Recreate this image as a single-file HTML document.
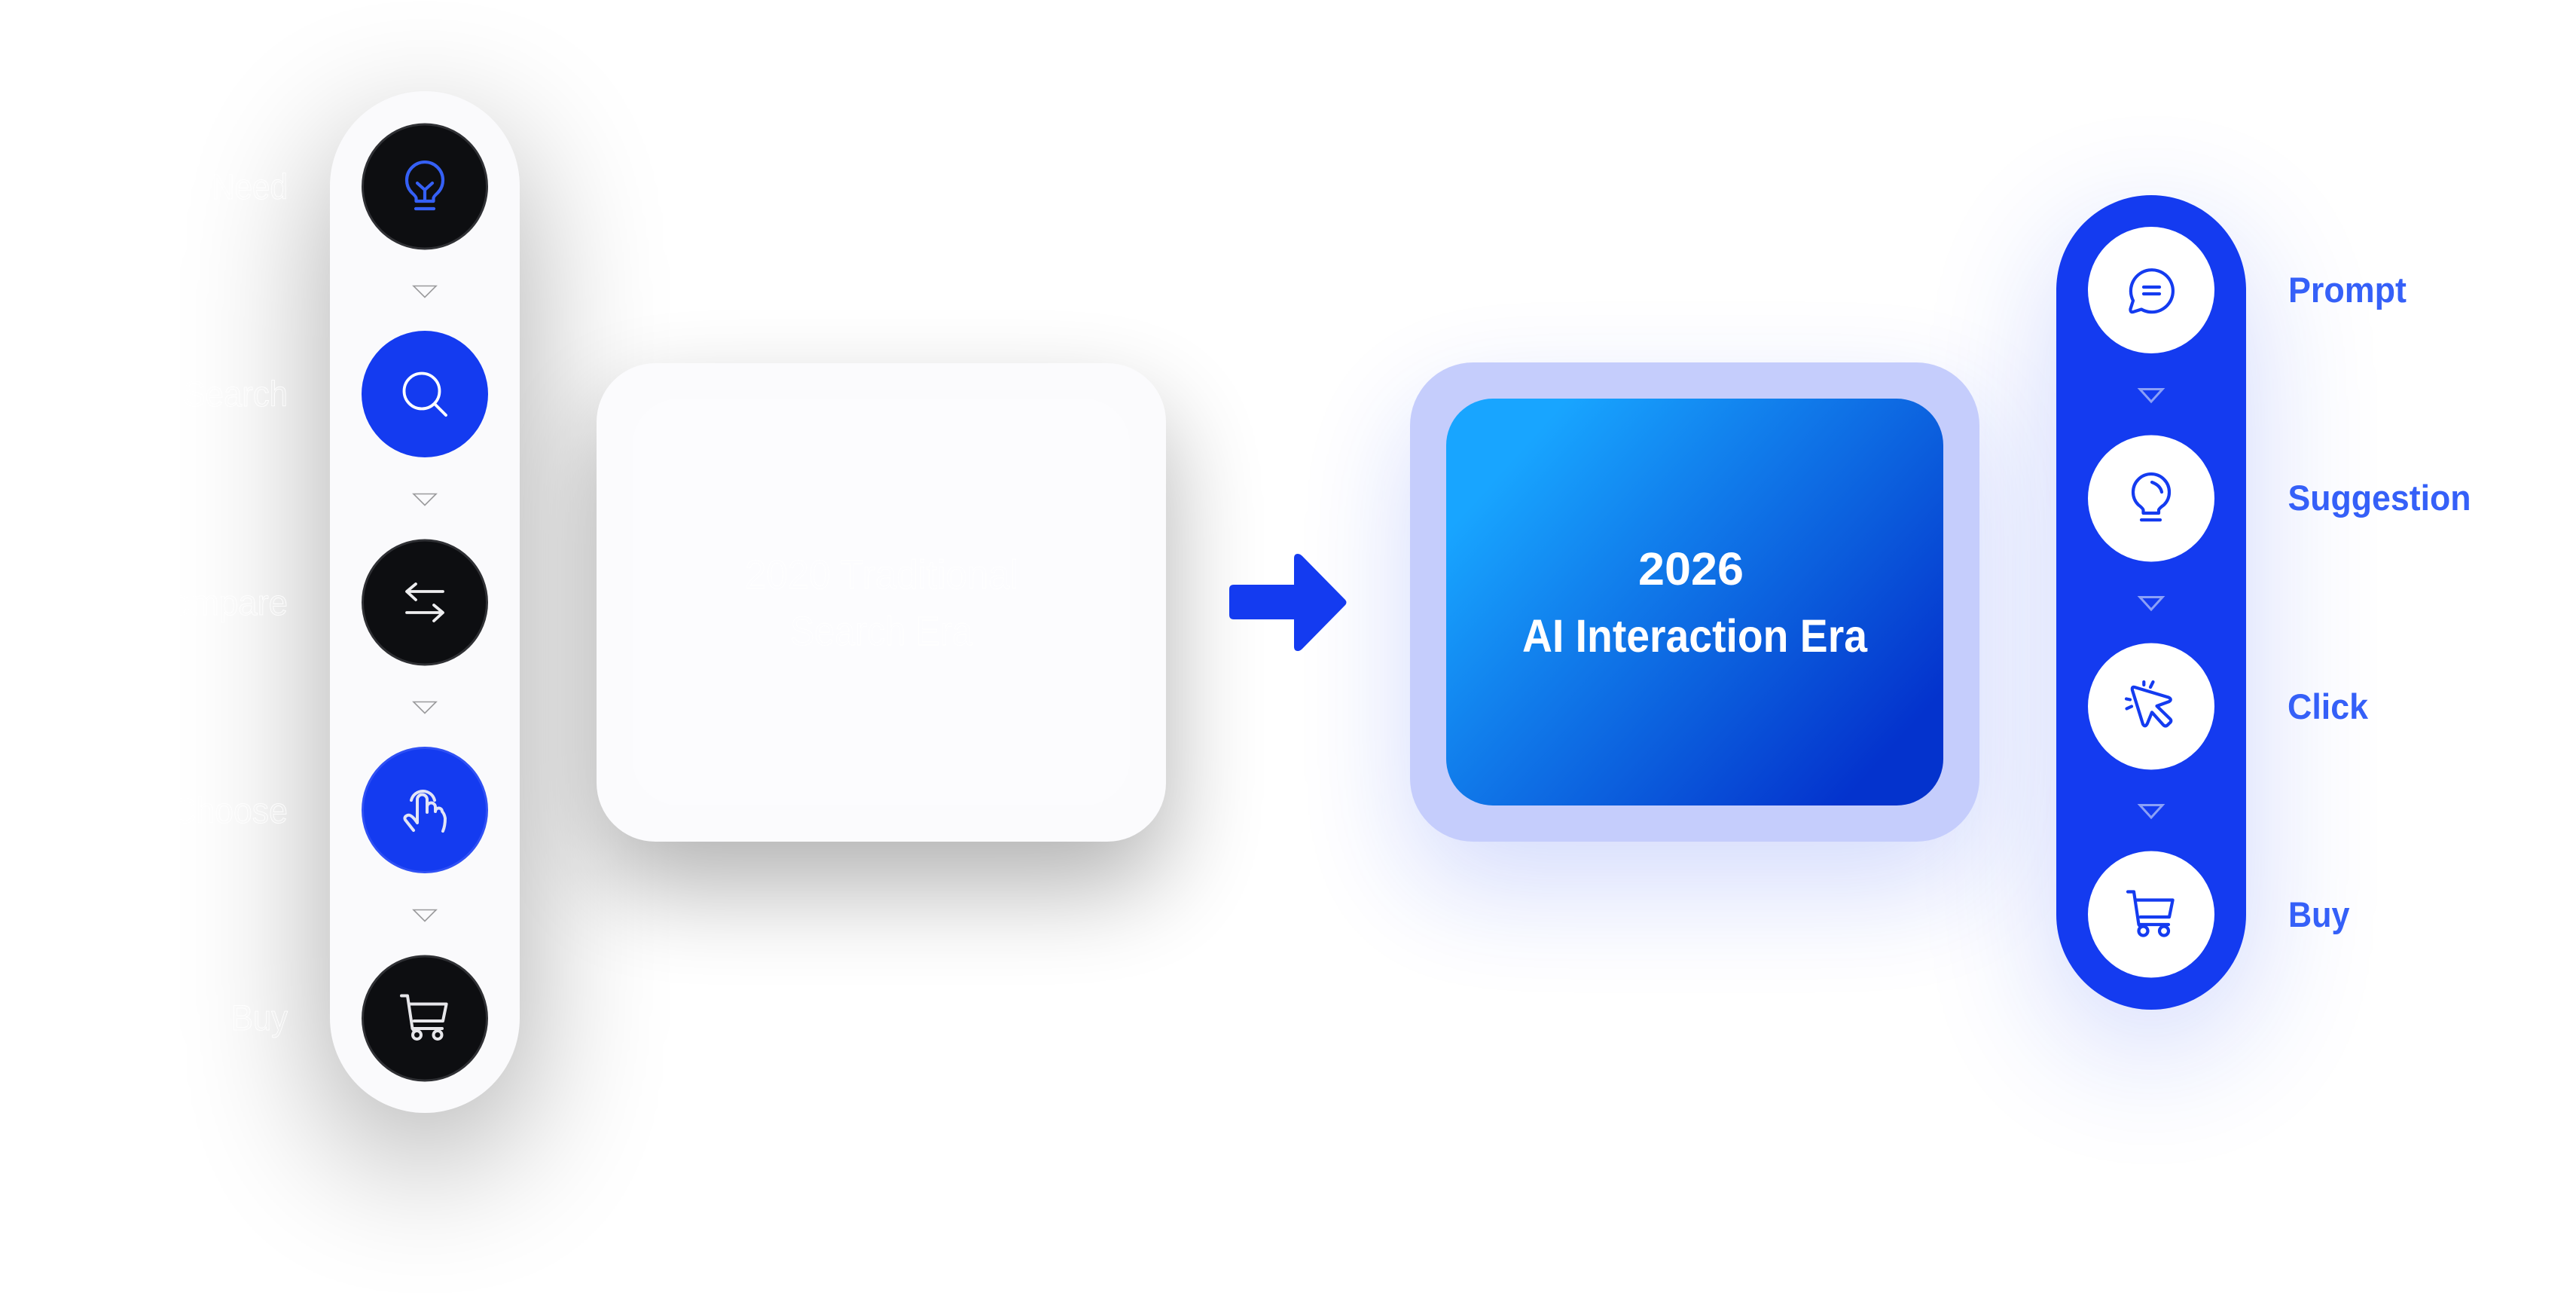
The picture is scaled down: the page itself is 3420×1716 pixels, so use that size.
<!DOCTYPE html>
<html><head><meta charset="utf-8"><style>
html,body{margin:0;padding:0;background:#fff;width:3420px;height:1716px;overflow:hidden}
.b{position:absolute;box-sizing:border-box}
svg{position:absolute;left:0;top:0}
text{font-family:"Liberation Sans",sans-serif}
</style></head><body>
<div class="b" style="left:438px;top:181px;width:252px;height:1356px;border-radius:126px;background:#000;opacity:.33;filter:blur(95px)"></div>
<div class="b" style="left:792px;top:542px;width:756px;height:635px;border-radius:78px;background:#000;opacity:.3;filter:blur(65px)"></div>
<div class="b" style="left:1872px;top:541px;width:756px;height:636px;border-radius:84px;background:#143bf0;opacity:.18;filter:blur(75px)"></div>
<div class="b" style="left:2730px;top:309px;width:252px;height:1081px;border-radius:126px;background:#143bf0;opacity:.2;filter:blur(90px)"></div>
<div class="b" style="left:438px;top:121px;width:252px;height:1356px;border-radius:126px;background:#fafafc"></div>
<div class="b" style="left:792px;top:482px;width:756px;height:635px;border-radius:78px;background:#fbfbfd"></div>
<div class="b" style="left:840px;top:529px;width:660px;height:540px;border-radius:62px;background:#fcfcfe"></div>
<div class="b" style="left:1872px;top:481px;width:756px;height:636px;border-radius:84px;background:#c5cdfc"></div>
<div class="b" style="left:1920px;top:529px;width:660px;height:540px;border-radius:62px;background:linear-gradient(132deg,#18a5ff 14%,#1283ee 36%,#0b5cdc 62%,#0433cd 88%)"></div>
<div class="b" style="left:2730px;top:259px;width:252px;height:1081px;border-radius:126px;background:#143bf0"></div>
<svg width="3420" height="1716" viewBox="0 0 3420 1716" fill="none" stroke-linecap="round" stroke-linejoin="round">
<!-- left circles -->
<circle cx="564" cy="247.5" r="82.5" fill="#0d0e11" stroke="#2f3034" stroke-width="3"/>
<circle cx="564" cy="523" r="84" fill="#143bf0"/>
<circle cx="564" cy="799.5" r="82.5" fill="#0d0e11" stroke="#2f3034" stroke-width="3"/>
<circle cx="564" cy="1075" r="82.5" fill="#143bf0" stroke="#2f50f4" stroke-width="3"/>
<circle cx="564" cy="1351.5" r="82.5" fill="#0d0e11" stroke="#2f3034" stroke-width="3"/>
<!-- left triangles -->
<g stroke="#9a9a9c" stroke-width="1.6" stroke-linejoin="miter">
<path d="M549 379.5H579L564 394.5Z"/><path d="M549 655.5H579L564 670.5Z"/><path d="M549 931.5H579L564 946.5Z"/><path d="M549 1207.5H579L564 1222.5Z"/>
</g>
<!-- left icons -->
<g stroke="#3560f5" stroke-width="4.2">
<path d="M552.5 267V263Q552.5 261 547 256A24 24 0 1 1 581 256Q575.5 261 575.5 263V267Z"/>
<path d="M554 243L564 252L574 243M564 252V266M552 277H576"/>
</g>
<g stroke="#fff" stroke-width="3.8"><circle cx="560" cy="519" r="23.5"/><path d="M577 536L592 551"/></g>
<g stroke="#eeeef0" stroke-width="3.8"><path d="M588 785H540L552 775M540 785L552 796M540 813H588L576 803M588 813L576 824"/></g>
<g stroke="#e2e5f6" stroke-width="4">
<path d="M546 1062A16 16 0 0 1 577 1062"/>
<path d="M549 1102L538 1088Q536 1084 541 1082Q546 1080 554 1092V1061A6.5 6.5 0 0 1 567 1061V1078V1071A5.5 5.5 0 0 1 578 1071V1077A4.5 4.5 0 0 1 587 1077Q590 1080 591 1086Q591 1096 588 1103"/>
</g>
<g stroke="#e6e6ea" stroke-width="4" transform="translate(564 1351.5)">
<path d="M-31-30H-23L-16.5 13.5H23M-19.3-19H28.6L24 3.5H-14.3M-16.5 13.5L-14 17"/>
<circle cx="-10.5" cy="22" r="5.5"/><circle cx="17" cy="22" r="5.5"/>
</g>
<!-- left labels -->
<g fill="rgba(255,255,255,.12)" stroke="#fff" stroke-width=".8" font-size="47">
<text x="281" y="264" textLength="101" lengthAdjust="spacingAndGlyphs">Need</text>
<text x="243.5" y="539" textLength="138.5" lengthAdjust="spacingAndGlyphs">Search</text>
<text x="195" y="816" textLength="187" lengthAdjust="spacingAndGlyphs">Compare</text>
<text x="228" y="1092" textLength="154" lengthAdjust="spacingAndGlyphs">Choose</text>
<text x="307" y="1367" textLength="75" lengthAdjust="spacingAndGlyphs">Buy</text>
</g>
<!-- centre labels -->
<g fill="rgba(255,255,255,.12)" stroke="#fff" stroke-width=".8" font-size="54">
<text x="989" y="781" textLength="363" lengthAdjust="spacingAndGlyphs">2020 Traditional</text>
<text x="1049" y="856" textLength="242" lengthAdjust="spacingAndGlyphs">Search Era</text>
</g>
<!-- arrow -->
<path d="M1638 776H1718V741Q1718 735 1723 735Q1726 735 1729 738L1786 796Q1789 799.5 1786 803L1729 861Q1726 864 1723 864Q1718 864 1718 858V822H1638Q1632 822 1632 816V782Q1632 776 1638 776Z" fill="#143bf0"/>
<!-- right card text -->
<g fill="#fff" font-size="61" font-weight="700">
<text x="2175" y="776" textLength="140" lengthAdjust="spacingAndGlyphs">2026</text>
<text x="2021" y="865" textLength="458" lengthAdjust="spacingAndGlyphs">AI Interaction Era</text>
</g>
<!-- right circles -->
<g fill="#fff"><circle cx="2856" cy="385" r="84"/><circle cx="2856" cy="661.5" r="84"/><circle cx="2856" cy="937.5" r="84"/><circle cx="2856" cy="1213.5" r="84"/></g>
<g stroke="#8ba0f7" stroke-width="3" stroke-linejoin="miter">
<path d="M2841 516.5H2871L2856 533Z"/><path d="M2841 792.5H2871L2856 809Z"/><path d="M2841 1068.5H2871L2856 1085Z"/>
</g>
<!-- right icons -->
<g stroke="#143bf0" stroke-width="4.2">
<path d="M2832 399A28 28 0 1 1 2843 410.5L2832 414Q2828 415 2828.5 410Z"/>
<path d="M2846 381H2867M2846 390H2867"/>
<path d="M2845.5 681V677Q2845.5 675 2839 670A24 24 0 1 1 2873 670Q2866 675 2866 677V681Z"/>
<path d="M2843 690H2868M2857 640Q2868 644 2870 653"/>
<path d="M2834 912L2879 925.5Q2884 928 2880 931L2863.5 937L2881 954Q2884 957 2880 960L2878 962Q2875 965 2872 962L2857 945.3L2851 960Q2848 966 2845 961L2831 916Q2830 911 2834 912Z"/>
<path d="M2846.3 905V909M2858.5 905L2855 912M2823 927.5L2828 928.5M2823.5 940.5L2830 937.5"/>
<g transform="translate(2856 1213.5)">
<path d="M-31-30H-23L-16.5 13.5H23M-19.3-19H28.6L24 3.5H-14.3M-16.5 13.5L-14 17"/>
<circle cx="-10.5" cy="22" r="6"/><circle cx="17" cy="22" r="6"/>
</g>
</g>
<!-- right labels -->
<g fill="#3560f8" font-size="47" font-weight="700">
<text x="3038" y="401" textLength="157" lengthAdjust="spacingAndGlyphs">Prompt</text>
<text x="3037.5" y="677" textLength="243" lengthAdjust="spacingAndGlyphs">Suggestion</text>
<text x="3037" y="954" textLength="107" lengthAdjust="spacingAndGlyphs">Click</text>
<text x="3038" y="1230" textLength="81.5" lengthAdjust="spacingAndGlyphs">Buy</text>
</g>
</svg>
</body></html>
